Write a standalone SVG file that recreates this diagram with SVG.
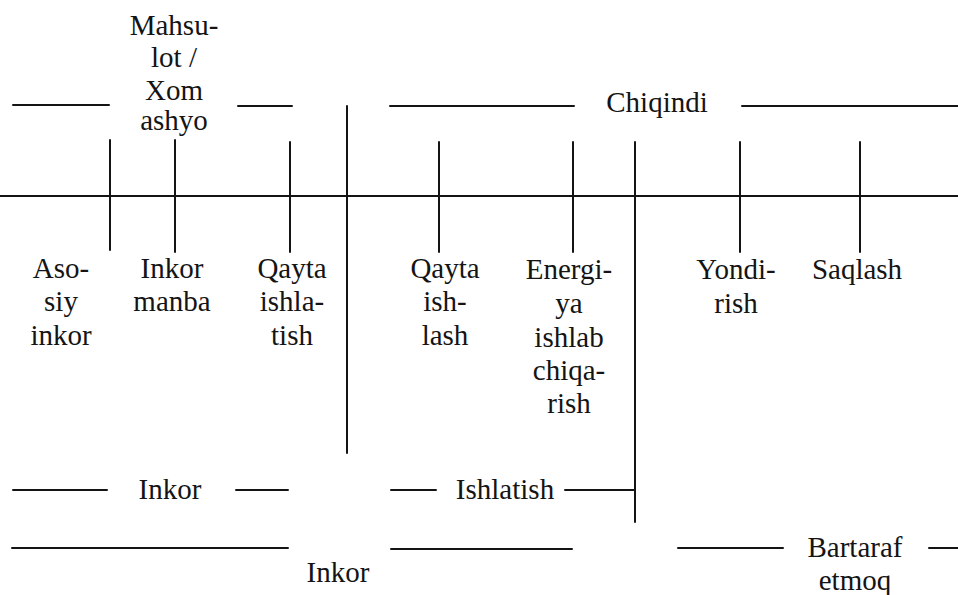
<svg xmlns="http://www.w3.org/2000/svg" width="958" height="595" viewBox="0 0 958 595">
<style>
.l{stroke:#141414;stroke-width:2;fill:none;stroke-linecap:round}
text{font-family:"Liberation Serif",serif !important}
</style>
<rect width="958" height="595" fill="#fff"/>
<g id="connectors">
<line class="l" x1="0" y1="196" x2="958" y2="196"/>
<line class="l" x1="13" y1="105" x2="109" y2="105"/>
<line class="l" x1="238" y1="106" x2="292" y2="106"/>
<line class="l" x1="390" y1="106" x2="574" y2="106"/>
<line class="l" x1="742" y1="106" x2="958" y2="106"/>
<line class="l" x1="110" y1="140" x2="110" y2="250"/>
<line class="l" x1="175" y1="140" x2="175" y2="252"/>
<line class="l" x1="290" y1="142" x2="290" y2="252"/>
<line class="l" x1="347" y1="106" x2="347" y2="453"/>
<line class="l" x1="439" y1="142" x2="439" y2="252"/>
<line class="l" x1="573" y1="142" x2="573" y2="252"/>
<line class="l" x1="635" y1="142" x2="635" y2="522"/>
<line class="l" x1="740" y1="142" x2="740" y2="252"/>
<line class="l" x1="860" y1="142" x2="860" y2="252"/>
<line class="l" x1="13" y1="490" x2="107" y2="490"/>
<line class="l" x1="236" y1="490" x2="288" y2="490"/>
<line class="l" x1="391" y1="490" x2="436" y2="490"/>
<line class="l" x1="565" y1="490" x2="635" y2="490"/>
<line class="l" x1="12" y1="548" x2="288" y2="548"/>
<line class="l" x1="391" y1="549" x2="572" y2="549"/>
<line class="l" x1="678" y1="548" x2="783" y2="548"/>
<line class="l" x1="929" y1="548" x2="958" y2="548"/>
</g>
<g font-size="29" fill="#141414" text-anchor="middle" font-family="Liberation Serif">
<g id="mahsulot"><text style="font-family:'Liberation Serif',serif !important" x="174" y="35">Mahsu-</text><text style="font-family:'Liberation Serif',serif !important" x="174" y="67">lot /</text><text style="font-family:'Liberation Serif',serif !important" x="174" y="100">Xom</text><text style="font-family:'Liberation Serif',serif !important" x="174" y="130">ashyo</text></g>
<g id="chiqindi"><text style="font-family:'Liberation Serif',serif !important" x="657" y="112">Chiqindi</text></g>
<g id="asosiy"><text style="font-family:'Liberation Serif',serif !important" x="61" y="278">Aso-</text><text style="font-family:'Liberation Serif',serif !important" x="61" y="311">siy</text><text style="font-family:'Liberation Serif',serif !important" x="61" y="345">inkor</text></g>
<g id="inkor-manba"><text style="font-family:'Liberation Serif',serif !important" x="172" y="278">Inkor</text><text style="font-family:'Liberation Serif',serif !important" x="172" y="311">manba</text></g>
<g id="qayta-ishlatish"><text style="font-family:'Liberation Serif',serif !important" x="292" y="278">Qayta</text><text style="font-family:'Liberation Serif',serif !important" x="292" y="311">ishla-</text><text style="font-family:'Liberation Serif',serif !important" x="292" y="345">tish</text></g>
<g id="qayta-ishlash"><text style="font-family:'Liberation Serif',serif !important" x="445" y="278">Qayta</text><text style="font-family:'Liberation Serif',serif !important" x="445" y="311">ish-</text><text style="font-family:'Liberation Serif',serif !important" x="445" y="345">lash</text></g>
<g id="energiya"><text style="font-family:'Liberation Serif',serif !important" x="569" y="279">Energi-</text><text style="font-family:'Liberation Serif',serif !important" x="569" y="313">ya</text><text style="font-family:'Liberation Serif',serif !important" x="569" y="347">ishlab</text><text style="font-family:'Liberation Serif',serif !important" x="569" y="380">chiqa-</text><text style="font-family:'Liberation Serif',serif !important" x="569" y="413">rish</text></g>
<g id="yondirish"><text style="font-family:'Liberation Serif',serif !important" x="736" y="279">Yondi-</text><text style="font-family:'Liberation Serif',serif !important" x="736" y="313">rish</text></g>
<g id="saqlash"><text style="font-family:'Liberation Serif',serif !important" x="857" y="279">Saqlash</text></g>
<g id="inkor1"><text style="font-family:'Liberation Serif',serif !important" x="170" y="499">Inkor</text></g>
<g id="ishlatish"><text style="font-family:'Liberation Serif',serif !important" x="505" y="499">Ishlatish</text></g>
<g id="inkor2"><text style="font-family:'Liberation Serif',serif !important" x="338" y="582">Inkor</text></g>
<g id="bartaraf"><text style="font-family:'Liberation Serif',serif !important" x="855" y="557">Bartaraf</text><text style="font-family:'Liberation Serif',serif !important" x="855" y="590">etmoq</text></g>
</g>
</svg>
